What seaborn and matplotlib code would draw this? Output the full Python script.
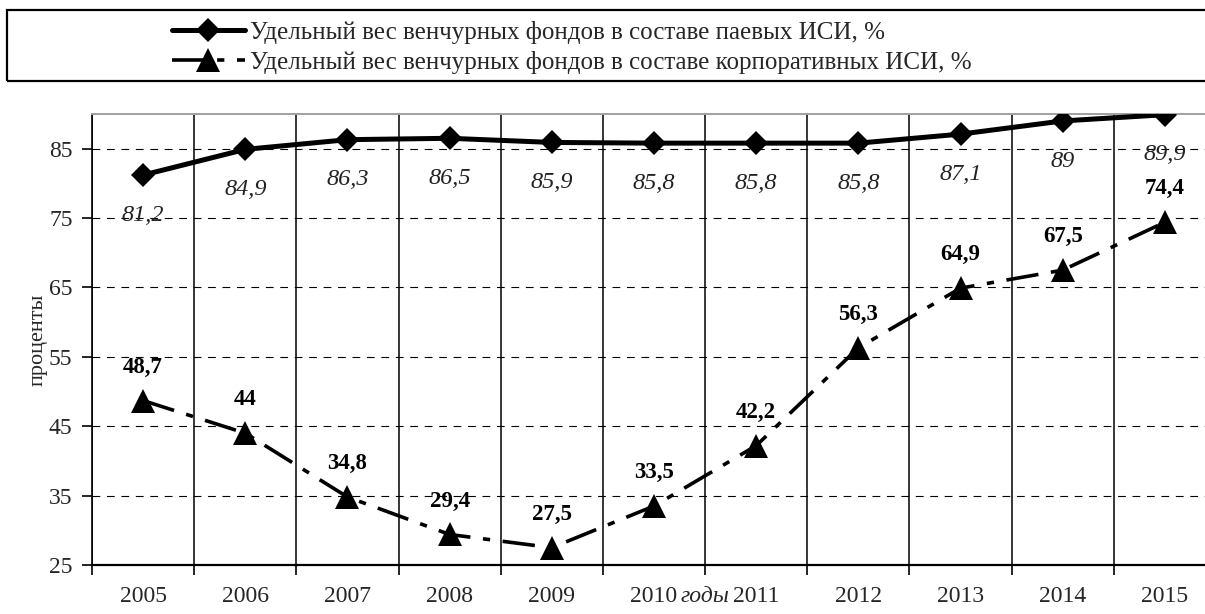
import matplotlib
matplotlib.use("Agg")
import matplotlib.pyplot as plt
import matplotlib.patches as mpatches
import numpy as np
import pandas as pd
import seaborn as sns

# данные
years = [2005, 2006, 2007, 2008, 2009, 2010, 2011, 2012, 2013, 2014, 2015]
paevye = [81.2, 84.9, 86.3, 86.5, 85.9, 85.8, 85.8, 85.8, 87.1, 89.0, 89.9]
korp = [48.7, 44.0, 34.8, 29.4, 27.5, 33.5, 42.2, 56.3, 64.9, 67.5, 74.4]
label_paev = "Удельный вес венчурных фондов в составе паевых ИСИ, %"
label_korp = "Удельный вес венчурных фондов в составе корпоративных ИСИ, %"
y_ticks = [25, 35, 45, 55, 65, 75, 85]

sns.set_theme(style="white")
plt.rcParams["font.family"] = ["Liberation Serif", "DejaVu Serif"]

W, H = 1205, 614
fig = plt.figure(figsize=(W / 100, H / 100), dpi=100)
ax = fig.add_axes([92 / W, 49 / H, 1124 / W, 451 / H])

df = pd.DataFrame({"Год": years, "паевые": paevye, "корп": korp})

sns.lineplot(data=df, x="Год", y="паевые", ax=ax, color="black", lw=3.6,
             marker="D", markersize=12.5, mec="black", mew=0,
             label=label_paev, zorder=5)
sns.lineplot(data=df, x="Год", y="корп", ax=ax, color="black", lw=2.6,
             linestyle=(0, (9, 3.5, 2, 3.5)), marker="^", markersize=17.5,
             mec="black", mew=0, label=label_korp, zorder=5)

# подписи значений
for x, v in zip(years, paevye):
    ax.annotate(f"{v:g}".replace(".", ","), (x, v), xytext=(0, -29),
                textcoords="offset points", ha="center", va="center",
                fontsize=17.5, style="italic", color="#222222")
for x, v in zip(years, korp):
    ax.annotate(f"{v:g}".replace(".", ","), (x, v), xytext=(0, 24),
                textcoords="offset points", ha="center", va="center",
                fontsize=16.5, fontweight="bold", color="black")

# оси
ax.set_xlim(2004.5, 2015.5)
ax.set_ylim(25, 90)
ax.set_yticks(y_ticks)
ax.set_xticks(years)
ax.set_xticklabels([str(y) for y in years])
ax.set_xticks(np.arange(2004.5, 2015.6, 1), minor=True)
ax.tick_params(axis="x", which="major", length=0, pad=15, labelsize=17)
ax.tick_params(axis="x", which="minor", length=7, width=1.2, direction="out",
               bottom=True, color="black")
ax.tick_params(axis="y", length=7, width=1.2, direction="out", left=True,
               color="black", pad=7, labelsize=17)

ax.yaxis.grid(True, color="black", linestyle=(0, (7, 6)), lw=0.8)
ax.xaxis.grid(True, which="minor", color="black", lw=1.1)
ax.xaxis.grid(False, which="major")
ax.set_axisbelow(True)

ax.spines["left"].set_color("black")
ax.spines["left"].set_linewidth(1.2)
ax.spines["bottom"].set_color("black")
ax.spines["bottom"].set_linewidth(1.6)
ax.spines["top"].set_color("#a0a0a0")
ax.spines["top"].set_linewidth(1.4)
ax.spines["right"].set_visible(False)

ax.set_xlabel("")
ax.set_ylabel("проценты", fontsize=16, labelpad=1)
ax.annotate("годы", xy=(2010.5, 0), xycoords=("data", "axes fraction"),
            xytext=(0, -23), textcoords="offset points", ha="center",
            va="center", fontsize=17, style="italic")

# легенда в рамке
handles, labels = ax.get_legend_handles_labels()
ax.get_legend().remove()
fig.patches.append(mpatches.Rectangle((7 / W, 1 - 81 / H), 1203 / W, 71 / H,
                                      transform=fig.transFigure, fill=False,
                                      ec="black", lw=1.6))
fig.legend(handles, labels, loc="upper left", bbox_to_anchor=(172 / W, 1 - 21 / H),
           frameon=False, fontsize=18, handlelength=2.9, handletextpad=0.2,
           labelspacing=0.28, borderpad=0, borderaxespad=0)

fig.savefig("out.png", dpi=100)
